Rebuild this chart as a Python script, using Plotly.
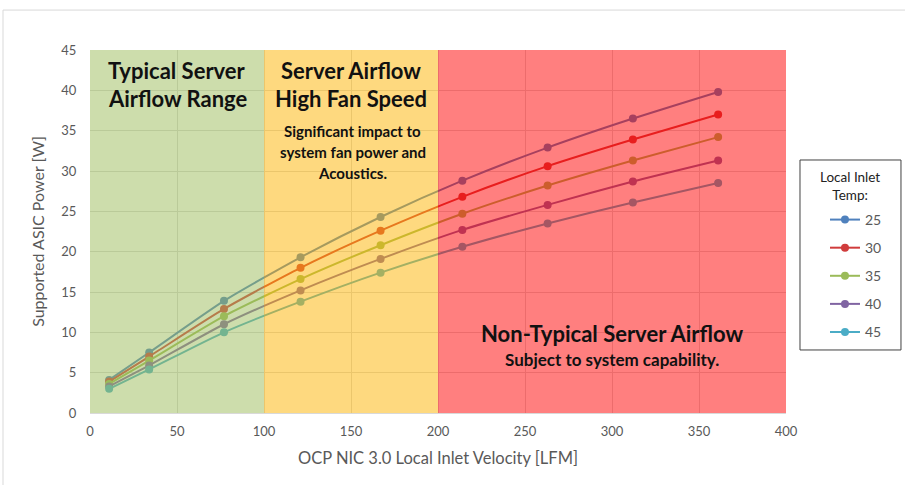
import plotly.graph_objects as go

# Local inlet velocity [LFM]
velocity = [11, 34, 77, 121, 167, 214, 263, 312, 361]

# Supported ASIC power [W] per local inlet temperature
inlet_temps = ["25", "30", "35", "40", "45"]
power_25 = [4.1, 7.5, 13.9, 19.3, 24.3, 28.8, 32.9, 36.5, 39.8]
power_30 = [3.9, 7.0, 12.9, 18.0, 22.6, 26.8, 30.6, 33.9, 37.0]
power_35 = [3.6, 6.5, 12.0, 16.6, 20.8, 24.7, 28.2, 31.3, 34.2]
power_40 = [3.3, 5.9, 11.0, 15.2, 19.1, 22.7, 25.8, 28.7, 31.3]
power_45 = [3.0, 5.4, 10.0, 13.8, 17.4, 20.6, 23.5, 26.1, 28.5]
series = [power_25, power_30, power_35, power_40, power_45]
colors = ["#4F81BD", "#D03C3C", "#9BBB59", "#8064A2", "#4BACC6"]

# Airflow regions: (start, end, fill)
regions = [(0, 100, "#9BBB59"), (100, 200, "#FDB400"), (200, 400, "#FF0000")]

FONT = "Lato"

fig = go.Figure()
for name, ys, c in zip(inlet_temps, series, colors):
    fig.add_trace(go.Scatter(
        x=velocity, y=ys, name=name, legendgroup=name,
        mode="lines+markers",
        line=dict(color=c, width=2, shape="spline", smoothing=0.6),
        marker=dict(color=c, size=8),
    ))

shapes = []
for x0, x1, fill in regions:
    shapes.append(dict(type="rect", xref="x", yref="y", x0=x0, x1=x1, y0=0, y1=45,
                       fillcolor=fill, opacity=0.5, line=dict(width=0), layer="above"))
# outer frame
shapes.append(dict(type="rect", xref="paper", yref="paper", x0=-0.125, x1=1.175,
                   y0=-0.215, y1=1.110, line=dict(color="#d9d9d9", width=1),
                   fillcolor="rgba(0,0,0,0)", layer="below"))
# legend frame
shapes.append(dict(type="rect", xref="paper", yref="paper", x0=1.0201, x1=1.1652,
                   y0=0.1736, y1=0.6970, line=dict(color="#404040", width=1),
                   fillcolor="white", layer="below"))

annotations = [
    dict(x=50, y=42.5, text="<b>Typical Server</b>", font=dict(size=22)),
    dict(x=50, y=39.0, text="<b>Airflow Range</b>", font=dict(size=22)),
    dict(x=150, y=42.5, text="<b>Server Airflow</b>", font=dict(size=22)),
    dict(x=150, y=39.0, text="<b>High Fan Speed</b>", font=dict(size=22)),
    dict(x=151, y=35.0, text="<b>Significant impact to</b>", font=dict(size=15)),
    dict(x=151, y=32.35, text="<b>system fan power and</b>", font=dict(size=15)),
    dict(x=151, y=29.8, text="<b>Acoustics.</b>", font=dict(size=15)),
    dict(x=300, y=9.8, text="<b>Non-Typical Server Airflow</b>", font=dict(size=22)),
    dict(x=300, y=6.6, text="<b>Subject to system capability.</b>", font=dict(size=17)),
]
for a in annotations:
    a.update(xref="x", yref="y", showarrow=False)
    a["font"].update(family=FONT, color="#111111")
# legend heading
annotations.append(dict(
    xref="paper", yref="paper", x=1.0925, y=0.6777, xanchor="center", yanchor="top",
    text="Local Inlet<br>Temp:", showarrow=False,
    font=dict(family=FONT, size=13.5, color="#222222"),
))

fig.update_layout(
    width=905, height=485,
    margin=dict(l=90, r=119, t=50, b=72),
    paper_bgcolor="white", plot_bgcolor="white",
    font=dict(family=FONT, color="#595959", size=13),
    shapes=shapes, annotations=annotations,
    showlegend=True,
    legend=dict(
        x=1.056, y=0.5758, xanchor="left", yanchor="top",
        borderwidth=0, bgcolor="rgba(0,0,0,0)",
        font=dict(family=FONT, size=14, color="#595959"),
        tracegroupgap=6.9, itemwidth=30,
    ),
)
fig.update_xaxes(
    range=[0, 400], dtick=50, showgrid=True, gridcolor="#d9d9d9",
    showline=True, linecolor="#d9d9d9", zeroline=False,
    ticks="outside", ticklen=6, tickcolor="rgba(0,0,0,0)",
    tickfont=dict(family=FONT, size=13, color="#595959"),
    title=dict(text="OCP NIC 3.0 Local Inlet Velocity [LFM]", standoff=14,
               font=dict(family=FONT, size=16.5, color="#595959")),
)
fig.update_yaxes(
    range=[0, 45], dtick=5, showgrid=True, gridcolor="#d9d9d9",
    showline=False, zeroline=False,
    ticks="outside", ticklen=10, tickcolor="rgba(0,0,0,0)",
    tickfont=dict(family=FONT, size=13, color="#595959"),
    title=dict(text="Supported ASIC Power [W]", standoff=12,
               font=dict(family=FONT, size=16, color="#595959")),
)

fig.write_html("out.html")
